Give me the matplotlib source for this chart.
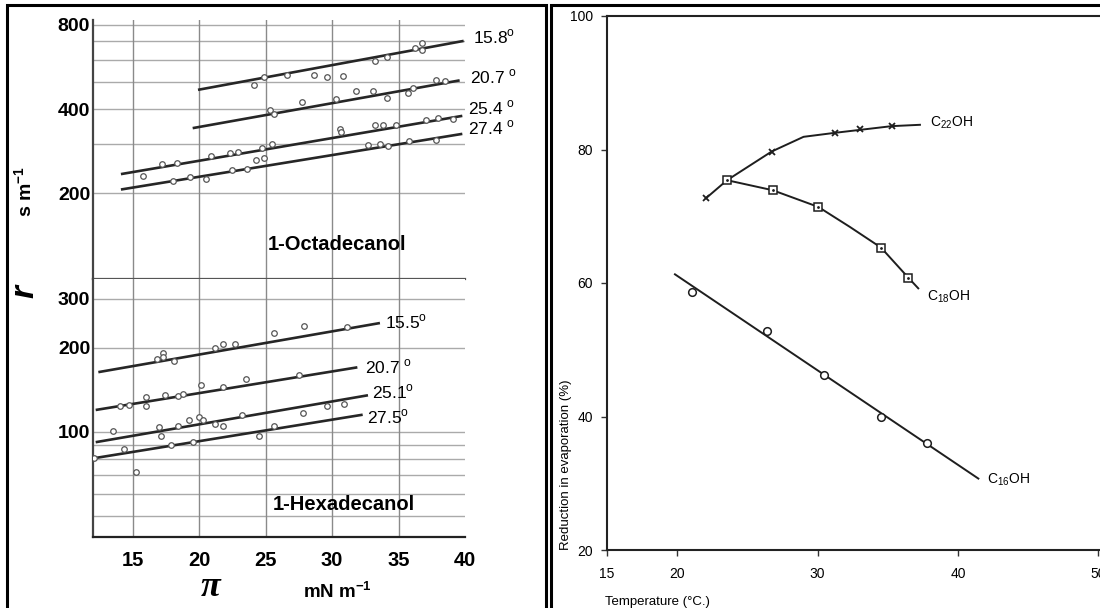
import matplotlib

matplotlib.use("Agg")
import matplotlib.pyplot as plt  # noqa: E402
from matplotlib.patches import Rectangle  # noqa: E402

plt.rcParams["axes.unicode_minus"] = False

# ---- left panel: r (s m-1) vs surface pressure, log scale ----
oct_temps = ["15.8", "20.7 ", "25.4 ", "27.4 "]
oct_x = [
    [24.1, 24.9, 26.6, 28.6, 29.6, 30.8, 33.2, 34.1, 36.2, 36.8, 36.8],
    [25.3, 25.6, 27.7, 30.3, 31.8, 33.1, 34.1, 35.7, 36.1, 37.8, 38.5],
    [15.8, 17.2, 18.3, 20.9, 22.3, 22.9, 24.7, 25.5, 30.6, 30.7, 33.2, 33.8, 34.8, 37.1, 38.0, 39.1],
    [18.0, 19.3, 20.5, 22.5, 23.6, 24.3, 24.9, 32.7, 33.6, 34.2, 35.8, 37.8],
]
oct_y = [
    [490, 520, 528, 528, 521, 525, 593, 617, 660, 689, 651],
    [397, 384, 424, 436, 464, 464, 437, 457, 477, 510, 503],
    [231, 255, 256, 273, 280, 282, 291, 300, 340, 331, 350, 352, 350, 367, 373, 370],
    [221, 229, 226, 242, 244, 263, 268, 299, 300, 296, 309, 311],
]
oct_fit_x = [[20.0, 39.8], [19.6, 39.5], [14.2, 39.7], [14.2, 39.7]]
oct_fit_y = [[470, 700], [343, 506], [235, 378], [207, 326]]

hex_temps = ["15.5", "20.7 ", "25.1", "27.5"]
hex_x = [
    [16.8, 17.3, 17.3, 18.1, 21.2, 21.8, 22.7, 25.6, 27.9, 31.1],
    [14.0, 14.7, 16.0, 16.0, 17.4, 18.4, 18.8, 20.1, 21.8, 23.5, 27.5],
    [13.5, 17.0, 17.1, 18.4, 19.2, 20.0, 20.3, 21.2, 21.8, 23.2, 27.8, 29.6, 30.9],
    [12.1, 14.3, 15.2, 17.9, 19.5, 24.5, 25.6],
]
hex_y = [
    [183, 191, 186, 180, 200, 206, 206, 227, 240, 237],
    [124, 125, 133, 124, 135, 134, 137, 147, 145, 155, 160],
    [101, 104, 97, 105, 110, 113, 110, 107, 105, 115, 117, 124, 126],
    [80.7, 86.7, 71.7, 89.8, 91.9, 97, 105],
]
hex_fit_x = [[12.5, 33.5], [12.3, 31.8], [12.3, 32.6], [12.1, 32.2]]
hex_fit_y = [[164, 245], [120, 170], [92, 135], [80.5, 115]]

pi_ticks = [15, 20, 25, 30, 35, 40]
oct_grid = [200, 300, 400, 500, 600, 700, 800]
oct_labels = {200: "200", 400: "400", 800: "800"}
hex_grid = [50, 60, 70, 80, 90, 100, 200, 300]
hex_labels = {100: "100", 200: "200", 300: "300"}

# ---- right panel: reduction in evaporation vs temperature ----
c22_pts_t = [22.05, 26.73, 31.24, 33.02, 35.28]
c22_pts_v = [72.7, 79.7, 82.5, 83.1, 83.5]
c22_line_t = [22.05, 23.55, 26.73, 29.0, 31.24, 35.28, 37.29]
c22_line_v = [72.7, 75.4, 79.7, 81.9, 82.5, 83.5, 83.7]

c18_pts_t = [23.55, 26.80, 30.05, 34.52, 36.46]
c18_pts_v = [75.4, 73.9, 71.4, 65.3, 60.8]
c18_line_t = [23.55, 26.80, 30.05, 32.3, 34.52, 36.46, 37.17]
c18_line_v = [75.4, 73.9, 71.4, 68.4, 65.3, 60.8, 59.2]

c16_pts_t = [21.03, 26.37, 30.46, 34.52, 37.77]
c16_pts_v = [58.6, 52.8, 46.2, 39.9, 36.1]
c16_line_t = [19.84, 41.45]
c16_line_v = [61.3, 30.7]

temp_ticks = [15, 20, 30, 40, 50]
evap_ticks = [20, 40, 60, 80, 100]

W, H = 1100, 608
LEFT_FONT = ["Liberation Sans", "DejaVu Sans"]
RIGHT_FONT = ["Liberation Sans", "DejaVu Sans"]


def fx(px):
    return px / W


def fy(py):
    return 1 - py / H


def style_log_axis(ax, grid, labels, ylim):
    ax.set_yscale("log")
    ax.set_xlim(12, 40)
    ax.set_ylim(*ylim)
    ax.set_yticks(grid)
    ax.set_yticklabels([labels.get(v, "") for v in grid], fontsize=14, fontweight="bold", family=LEFT_FONT)
    ax.minorticks_off()
    ax.tick_params(axis="y", length=0, pad=2)
    ax.tick_params(axis="x", length=0)
    for v in grid:
        ax.axhline(v, color="#aaaaaa", lw=1.0, zorder=0)
    for v in pi_ticks[:-1]:
        ax.axvline(v, color="#8a8a8a", lw=1.0, zorder=0)
    ax.spines["top"].set_visible(False)
    ax.spines["right"].set_visible(False)
    ax.spines["left"].set_color("#444444")
    ax.spines["left"].set_linewidth(1.6)


def draw_series(ax, xs, ys, fit_x, fit_y):
    for px_, py_, lx, ly in zip(xs, ys, fit_x, fit_y):
        ax.plot(lx, ly, "-", color="#262626", lw=1.9, zorder=2)
        ax.plot(px_, py_, "o", ms=4, mfc="white", mec="#555555", mew=0.9, zorder=3)


fig = plt.figure(figsize=(W / 100, H / 100), dpi=100)

ax_top = fig.add_axes([fx(93), fy(279), (465 - 93) / W, (279 - 20) / H])
ax_bot = fig.add_axes([fx(93), fy(537), (465 - 93) / W, (537 - 279) / H])

style_log_axis(ax_top, oct_grid, oct_labels, (99, 833))
ax_top.set_xticks(pi_ticks)
ax_top.set_xticklabels([])
ax_top.spines["bottom"].set_color("#555555")
ax_top.spines["bottom"].set_linewidth(1.6)
draw_series(ax_top, oct_x, oct_y, oct_fit_x, oct_fit_y)

style_log_axis(ax_bot, hex_grid, hex_labels, (42, 353))
ax_bot.set_xticks(pi_ticks)
ax_bot.set_xticklabels([str(v) for v in pi_ticks], fontsize=14.5, fontweight="bold", family=LEFT_FONT)
ax_bot.tick_params(axis="x", pad=10)
ax_bot.spines["bottom"].set_color("#222222")
ax_bot.spines["bottom"].set_linewidth(1.6)
draw_series(ax_bot, hex_x, hex_y, hex_fit_x, hex_fit_y)

# temperature labels at the line ends
oct_label_pos = [(473, 37), (470, 77), (468, 108), (468, 128)]
hex_label_pos = [(385, 322), (365, 367), (372, 392), (367, 417)]
for t, (x, y) in zip(oct_temps + hex_temps, oct_label_pos + hex_label_pos):
    fig.text(fx(x), fy(y), t + r"$^{\mathregular{o}}$", fontsize=12.5, family=LEFT_FONT, ha="left", va="center")

fig.text(fx(337), fy(245), "1-Octadecanol", fontsize=14.5, fontweight="bold", family=LEFT_FONT, ha="center", va="center")
fig.text(fx(344), fy(505), "1-Hexadecanol", fontsize=14.5, fontweight="bold", family=LEFT_FONT, ha="center", va="center")
fig.text(fx(25), fy(191), r"s m$^{\mathregular{-1}}$", fontsize=14, fontweight="bold", family=LEFT_FONT,
         rotation=90, ha="center", va="center")
fig.text(fx(25), fy(292), "r", fontsize=24, fontweight="bold", style="italic", family=LEFT_FONT,
         rotation=90, ha="center", va="center")
fig.text(fx(211), fy(588), "\u03c0", fontsize=26, fontweight="bold", style="italic",
         family=["Liberation Serif", "DejaVu Serif"], ha="center", va="center")
fig.text(fx(337), fy(592), r"mN m$^{\mathregular{-1}}$", fontsize=13.5, fontweight="bold", family=LEFT_FONT,
         ha="center", va="center")

# ---- right panel ----
ax_r = fig.add_axes([fx(607), fy(550), (1100 - 607) / W, (550 - 16) / H])
ax_r.set_xlim(15, 15 + 493 / 14.04)
ax_r.set_ylim(20, 100)
ax_r.plot(c22_line_t, c22_line_v, "-", color="#1e1e1e", lw=1.4)
ax_r.plot(c22_pts_t, c22_pts_v, "x", color="#1e1e1e", ms=5, mew=1.3)
ax_r.plot(c18_line_t, c18_line_v, "-", color="#1e1e1e", lw=1.4)
ax_r.plot(c18_pts_t, c18_pts_v, "s", ms=6, mfc="white", mec="#1e1e1e", mew=1.1)
ax_r.plot(c18_pts_t, c18_pts_v, ".", ms=2, color="#1e1e1e")
ax_r.plot(c16_line_t, c16_line_v, "-", color="#1e1e1e", lw=1.4)
ax_r.plot(c16_pts_t, c16_pts_v, "o", ms=5.5, mfc="white", mec="#1e1e1e", mew=1.1)

ax_r.set_xticks(temp_ticks)
ax_r.set_xticklabels([str(v) for v in temp_ticks], fontsize=10, family=RIGHT_FONT, stretch="condensed")
ax_r.set_yticks(evap_ticks)
ax_r.set_yticklabels([str(v) for v in evap_ticks], fontsize=10, family=RIGHT_FONT, stretch="condensed")
ax_r.tick_params(direction="out", length=4, width=1.0, color="#333333")
ax_r.tick_params(axis="y", pad=6)
ax_r.tick_params(axis="x", pad=8)
ax_r.spines["right"].set_visible(False)
for s in ("left", "bottom", "top"):
    ax_r.spines[s].set_linewidth(1.5)
    ax_r.spines[s].set_color("#222222")

fig.text(fx(930), fy(123), r"C$_{\mathregular{22}}$OH", fontsize=10, family=RIGHT_FONT, ha="left", va="center")
fig.text(fx(927), fy(297), r"C$_{\mathregular{18}}$OH", fontsize=10, family=RIGHT_FONT, ha="left", va="center")
fig.text(fx(987), fy(480), r"C$_{\mathregular{16}}$OH", fontsize=10, family=RIGHT_FONT, ha="left", va="center")
fig.text(fx(566), fy(465), "Reduction in evaporation (%)", fontsize=9.5, family=RIGHT_FONT,
         rotation=90, ha="center", va="center")
fig.text(fx(605), fy(602), "Temperature (\u00b0C.)", fontsize=9.5, family=RIGHT_FONT, ha="left", va="center")

# panel frames
fig.patches.append(Rectangle((fx(7), fy(612)), fx(546) - fx(7), fy(5) - fy(612), transform=fig.transFigure,
                             fill=False, ec="black", lw=2.2, zorder=10))
fig.patches.append(Rectangle((fx(551), fy(612)), fx(1110) - fx(551), fy(5) - fy(612), transform=fig.transFigure,
                             fill=False, ec="black", lw=2.2, zorder=10))

fig.savefig("out.png", dpi=100, facecolor="white")
plt.close(fig)
